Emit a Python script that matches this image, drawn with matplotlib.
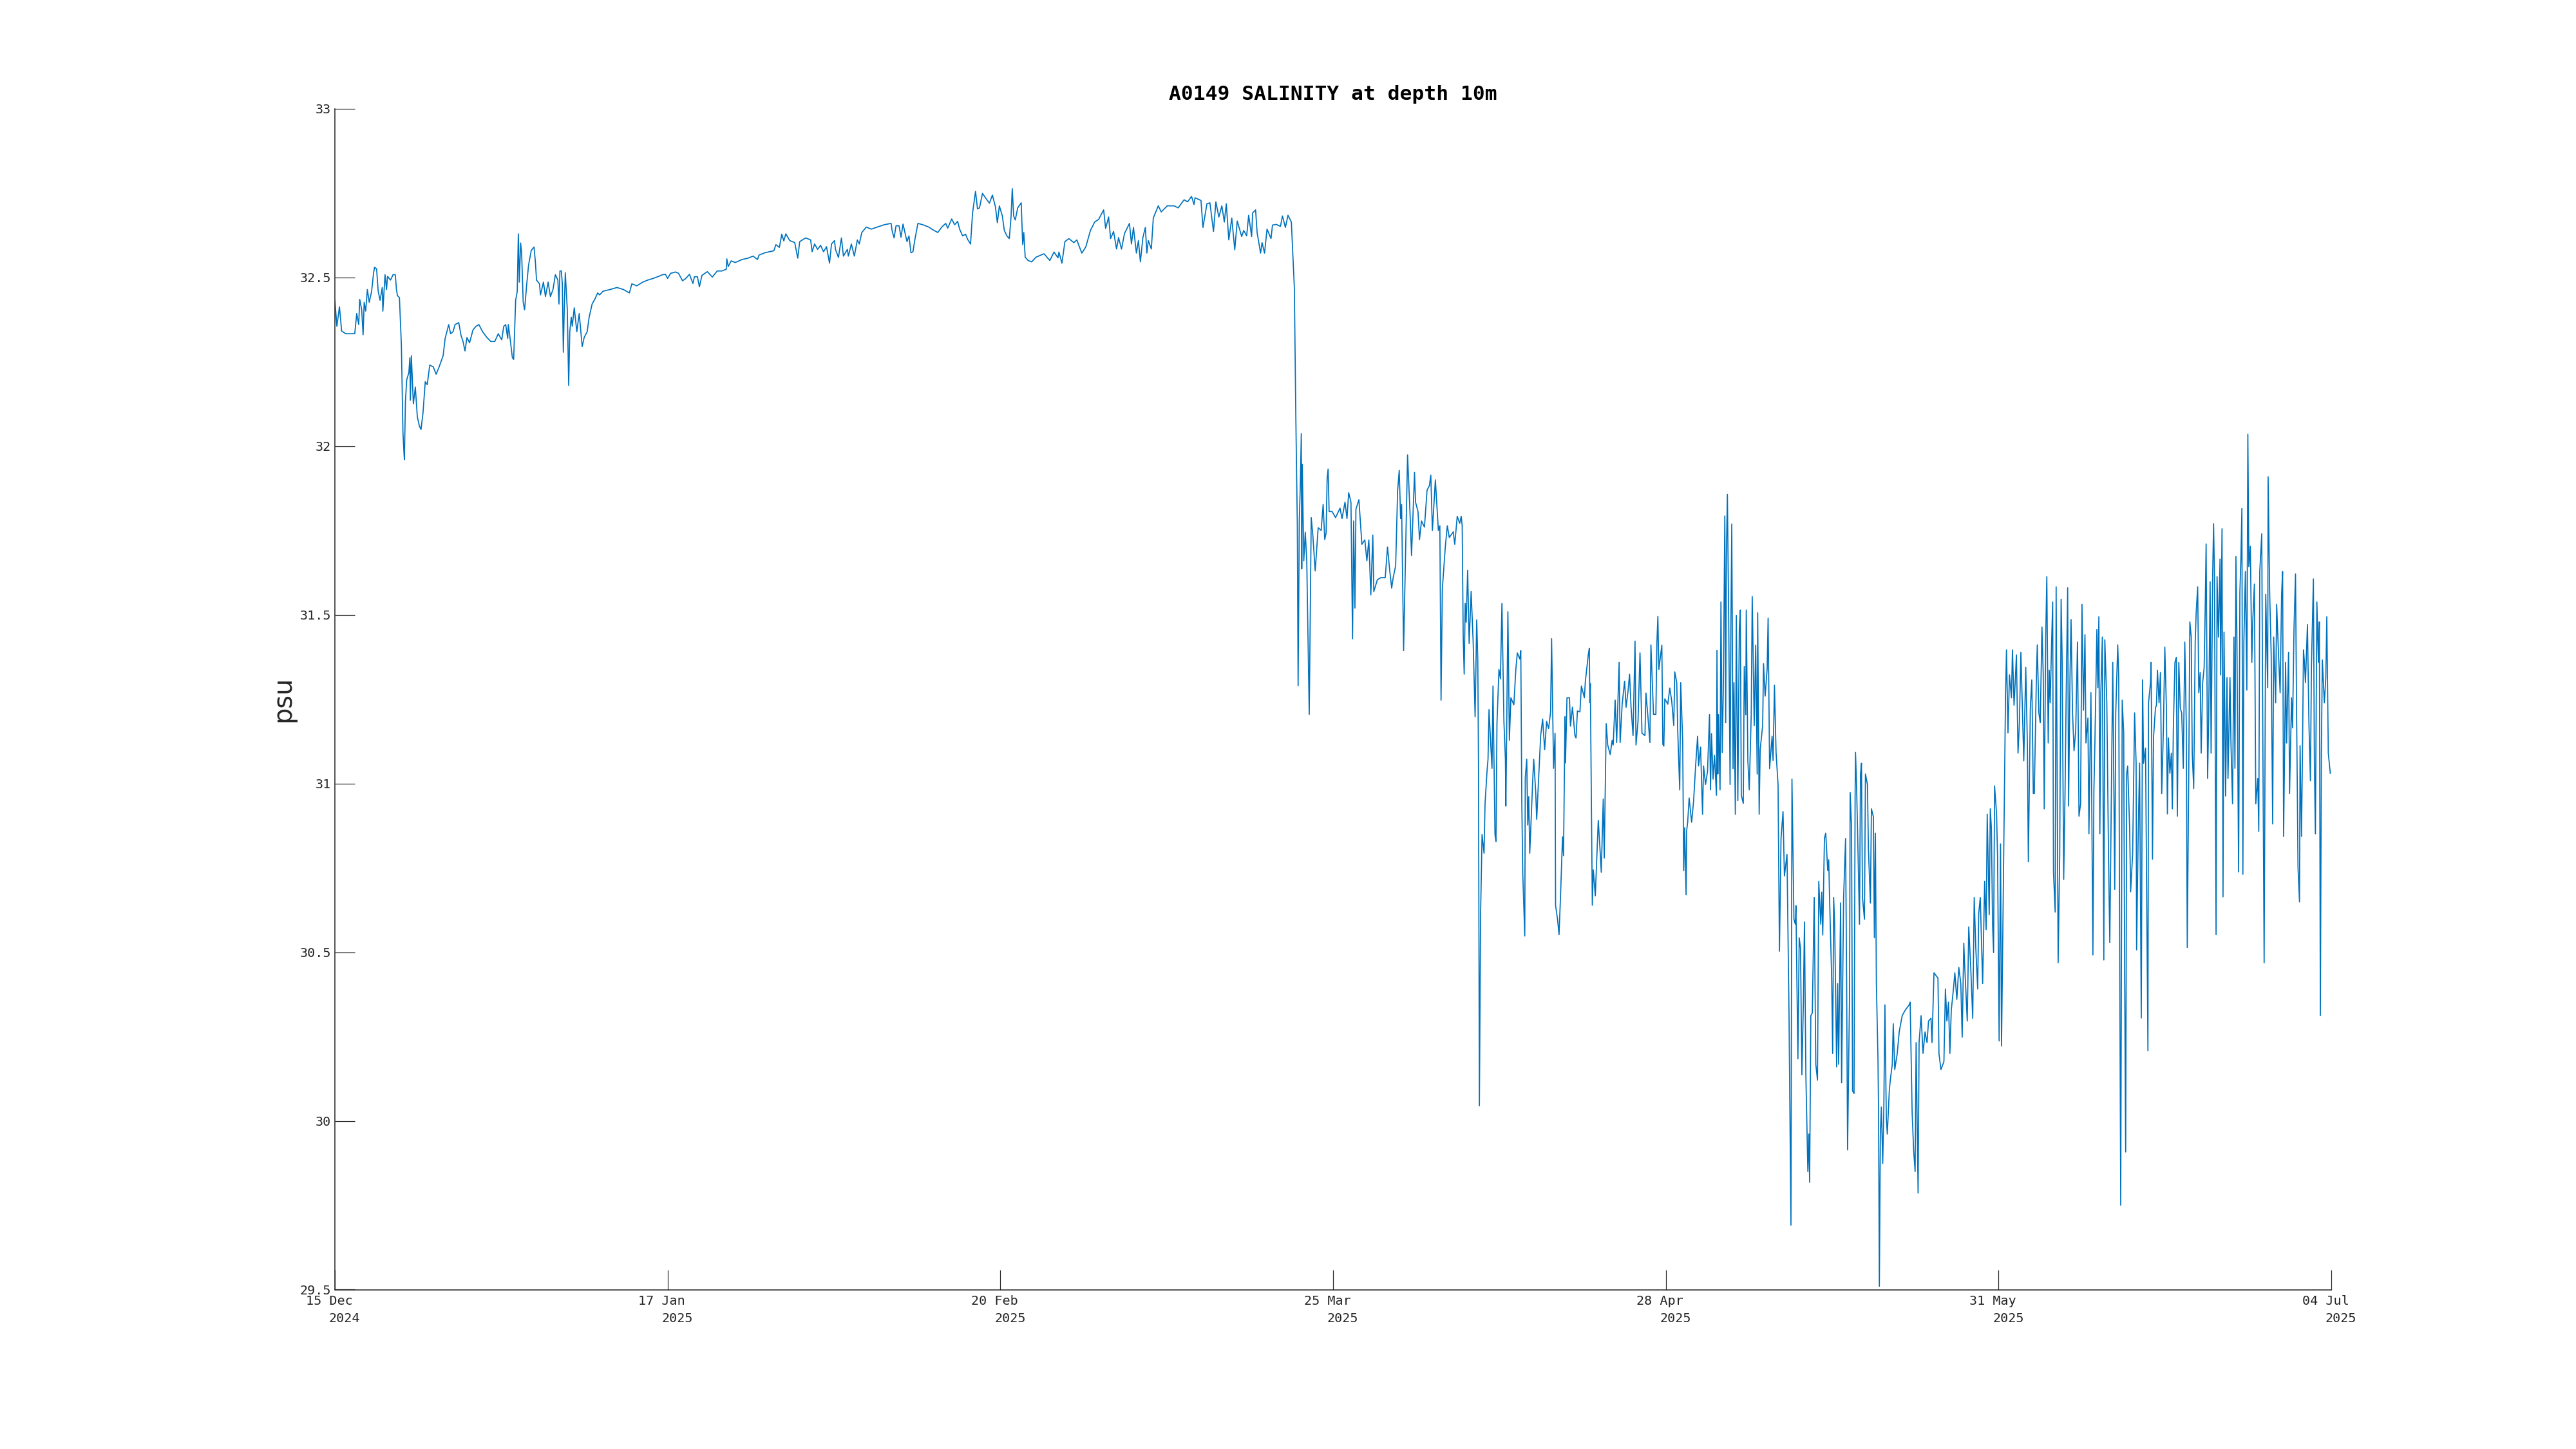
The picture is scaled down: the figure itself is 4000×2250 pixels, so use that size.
import numpy as np
import matplotlib
matplotlib.use("Agg")
import matplotlib.pyplot as plt
import matplotlib.dates as mdates
import matplotlib.transforms as mtransforms

# salinity: (days since 15 Dec 2024 00:00, psu)
dec_jan = [
    (0, 32.432), (0.2, 32.355), (0.46, 32.413), (0.68, 32.341), (1.1, 32.333), (1.6, 32.333),
    (2.0, 32.333), (2.2, 32.393), (2.4, 32.36), (2.5, 32.435), (2.7, 32.404), (2.84, 32.33),
    (2.95, 32.426), (3.1, 32.40), (3.27, 32.464), (3.46, 32.426), (3.7, 32.459), (3.9, 32.514),
    (4.0, 32.53), (4.2, 32.525), (4.36, 32.459), (4.55, 32.432), (4.77, 32.47), (4.83, 32.40),
    (5.05, 32.508), (5.2, 32.464), (5.3, 32.503), (5.6, 32.492), (5.86, 32.508), (6.08, 32.508),
    (6.2, 32.464), (6.3, 32.446), (6.5, 32.44), (6.7, 32.295), (6.85, 32.043), (6.96, 31.978),
    (7.0, 31.96), (7.1, 32.131), (7.23, 32.196), (7.45, 32.218), (7.55, 32.262), (7.6, 32.136),
    (7.7, 32.268), (7.83, 32.175), (7.9, 32.125), (8.1, 32.175), (8.3, 32.087), (8.5, 32.06),
    (8.67, 32.049), (8.87, 32.098), (9.1, 32.191), (9.3, 32.182), (9.55, 32.24), (9.9, 32.235),
    (10.2, 32.213), (10.5, 32.235), (10.9, 32.268), (11.1, 32.319), (11.46, 32.36), (11.65, 32.333),
    (11.9, 32.339), (12.1, 32.36), (12.47, 32.366), (12.7, 32.328), (12.9, 32.31), (13.1, 32.282),
    (13.3, 32.322), (13.56, 32.306), (13.9, 32.344), (14.2, 32.355), (14.5, 32.36), (14.87, 32.339),
    (15.3, 32.322), (15.7, 32.31), (16.1, 32.31), (16.45, 32.333), (16.8, 32.315), (17.0, 32.355),
    (17.2, 32.36), (17.4, 32.319), (17.46, 32.36), (17.65, 32.317), (17.87, 32.262), (18.0, 32.257),
    (18.2, 32.432), (18.36, 32.459), (18.47, 32.629), (18.57, 32.486), (18.7, 32.602), (18.8, 32.574),
    (18.96, 32.426), (19.1, 32.404), (19.3, 32.475), (19.5, 32.536), (19.77, 32.58), (20.05, 32.59),
    (20.2, 32.541), (20.3, 32.492), (20.6, 32.481), (20.7, 32.448), (21.0, 32.486), (21.2, 32.443),
    (21.47, 32.486), (21.7, 32.443), (21.96, 32.464), (22.2, 32.508), (22.45, 32.492), (22.56, 32.421),
    (22.66, 32.519), (22.8, 32.519), (22.9, 32.481), (23.0, 32.278), (23.1, 32.415), (23.2, 32.514),
    (23.4, 32.404), (23.54, 32.18), (23.65, 32.339), (23.8, 32.382), (23.9, 32.355), (24.1, 32.41),
    (24.36, 32.339), (24.6, 32.393), (24.9, 32.295), (25.1, 32.322), (25.4, 32.339), (25.6, 32.382),
    (25.9, 32.421), (26.2, 32.437), (26.46, 32.454), (26.65, 32.448), (27.0, 32.459), (27.7, 32.464),
    (28.4, 32.47), (29.05, 32.464), (29.65, 32.454), (29.9, 32.481), (30.4, 32.475), (31.0, 32.486),
    (31.5, 32.492), (32.05, 32.497), (32.6, 32.503), (33.0, 32.508),
]

jan_feb = [
    (33.28, 32.509), (33.5, 32.497), (33.8, 32.512), (34.3, 32.516), (34.6, 32.512), (35.0, 32.49),
    (35.3, 32.496), (35.7, 32.509), (36.05, 32.482), (36.2, 32.502), (36.5, 32.502), (36.7, 32.472),
    (36.96, 32.506), (37.5, 32.517), (38.0, 32.501), (38.5, 32.519), (38.96, 32.519), (39.4, 32.524),
    (39.46, 32.555), (39.6, 32.532), (39.9, 32.549), (40.3, 32.544), (41.0, 32.553), (41.6, 32.557),
    (42.1, 32.563), (42.55, 32.553), (42.7, 32.566), (43.3, 32.573), (44.2, 32.579), (44.4, 32.597),
    (44.75, 32.589), (45.0, 32.628), (45.2, 32.608), (45.4, 32.629), (45.8, 32.609), (46.3, 32.603),
    (46.6, 32.557), (46.8, 32.606), (47.4, 32.617), (47.9, 32.611), (48.05, 32.576), (48.3, 32.599),
    (48.6, 32.583), (48.9, 32.595), (49.2, 32.576), (49.5, 32.591), (49.8, 32.542), (50.0, 32.599),
    (50.3, 32.609), (50.4, 32.583), (50.7, 32.559), (51.0, 32.617), (51.2, 32.563), (51.6, 32.583),
    (51.7, 32.563), (52.0, 32.599), (52.3, 32.563), (52.6, 32.611), (52.8, 32.599), (53.05, 32.633),
    (53.5, 32.649), (54.0, 32.643), (54.6, 32.649), (55.3, 32.656), (56.0, 32.66), (56.1, 32.639),
    (56.3, 32.617), (56.5, 32.653), (56.8, 32.653), (57.0, 32.619), (57.2, 32.658), (57.6, 32.606),
    (57.8, 32.623), (58.0, 32.573), (58.2, 32.576), (58.4, 32.613), (58.7, 32.66), (59.2, 32.656),
    (59.8, 32.649), (60.1, 32.643), (60.7, 32.633), (61.1, 32.649), (61.5, 32.66), (61.7, 32.646),
    (62.1, 32.673), (62.4, 32.656), (62.7, 32.666), (62.9, 32.643), (63.2, 32.623), (63.5, 32.628),
    (63.7, 32.613), (64.0, 32.599), (64.2, 32.69), (64.5, 32.755), (64.7, 32.703), (64.9, 32.706),
    (65.2, 32.749), (65.5, 32.736), (65.8, 32.724), (65.9, 32.72), (66.2, 32.744), (66.5, 32.71),
    (66.7, 32.662),
]

feb_mar = [
    (66.9, 32.712), (67.2, 32.682), (67.4, 32.639), (67.66, 32.623), (67.9, 32.615), (68.07, 32.676),
    (68.2, 32.763), (68.34, 32.682), (68.5, 32.67), (68.75, 32.706), (69.1, 32.721), (69.25, 32.597),
    (69.36, 32.633), (69.5, 32.56), (69.8, 32.55), (70.15, 32.546), (70.6, 32.56), (71.4, 32.57),
    (71.98, 32.55), (72.4, 32.575), (72.8, 32.558), (72.9, 32.575), (73.2, 32.542), (73.5, 32.606),
    (73.9, 32.615), (74.4, 32.603), (74.7, 32.611), (75.2, 32.572), (75.6, 32.59), (76.07, 32.639),
    (76.5, 32.664), (76.9, 32.672), (77.4, 32.7), (77.6, 32.645), (77.9, 32.679), (78.1, 32.615),
    (78.4, 32.636), (78.7, 32.584), (78.9, 32.618), (79.2, 32.584), (79.5, 32.63), (80.0, 32.66),
    (80.2, 32.599), (80.4, 32.648), (80.7, 32.572), (80.9, 32.609), (81.1, 32.546), (81.35, 32.618),
    (81.6, 32.648), (81.75, 32.572), (81.9, 32.609), (82.2, 32.584), (82.4, 32.676), (82.9, 32.712),
    (83.2, 32.694), (83.8, 32.712), (84.5, 32.712), (84.9, 32.706), (85.5, 32.73), (85.85, 32.724),
    (86.25, 32.74), (86.5, 32.716), (86.6, 32.736), (87.2, 32.728), (87.4, 32.648), (87.8, 32.718),
    (88.1, 32.721), (88.46, 32.636), (88.7, 32.724), (89.0, 32.679), (89.3, 32.712), (89.55, 32.664),
    (89.75, 32.718), (90.0, 32.611), (90.3, 32.676), (90.6, 32.582), (90.85, 32.667), (91.3, 32.621),
    (91.5, 32.639), (91.8, 32.623), (92.0, 32.684), (92.3, 32.621), (92.4, 32.691), (92.7, 32.7),
    (92.85, 32.633), (93.2, 32.572), (93.35, 32.603), (93.6, 32.572), (93.85, 32.643), (94.25, 32.615),
    (94.4, 32.655), (94.8, 32.657), (95.2, 32.651), (95.4, 32.682), (95.7, 32.648), (95.96, 32.684),
    (96.3, 32.664), (96.5, 32.536), (96.6, 32.469), (96.75, 32.086), (96.9, 31.764), (96.98, 31.29),
    (97.1, 31.782), (97.2, 31.88), (97.3, 32.037), (97.35, 31.636), (97.4, 31.946), (97.55, 31.66),
    (97.7, 31.745), (97.85, 31.66), (98.1, 31.205), (98.3, 31.788), (98.45, 31.74), (98.7, 31.63),
    (99.0, 31.758),
]

mar_apr = [
    (99.3, 31.75), (99.5, 31.827), (99.66, 31.723), (99.8, 31.743), (99.9, 31.904), (100.0, 31.932),
    (100.1, 31.806), (100.4, 31.806), (100.75, 31.788), (101.2, 31.816), (101.4, 31.785), (101.7, 31.834),
    (101.9, 31.785), (102.07, 31.862), (102.3, 31.834), (102.46, 31.429), (102.57, 31.778), (102.7, 31.52),
    (102.8, 31.813), (103.1, 31.841), (103.4, 31.709), (103.7, 31.722), (103.9, 31.66), (104.1, 31.722),
    (104.3, 31.559), (104.5, 31.736), (104.6, 31.569), (104.96, 31.604), (105.3, 31.61), (105.75, 31.61),
    (105.98, 31.701), (106.2, 31.632), (106.4, 31.579), (106.55, 31.61), (106.8, 31.645), (107.0, 31.869),
    (107.16, 31.928), (107.3, 31.785), (107.4, 31.827), (107.6, 31.394), (107.8, 31.688), (108.0, 31.974),
    (108.25, 31.799), (108.4, 31.676), (108.7, 31.922), (108.8, 31.834), (109.05, 31.806), (109.2, 31.723),
    (109.4, 31.778), (109.7, 31.76), (109.96, 31.869), (110.2, 31.883), (110.34, 31.914), (110.5, 31.75),
    (110.8, 31.9), (111.1, 31.75), (111.25, 31.764), (111.37, 31.247), (111.5, 31.576), (111.8, 31.702),
    (112.0, 31.764), (112.2, 31.729), (112.6, 31.746), (112.75, 31.709), (113.0, 31.792), (113.25, 31.771),
    (113.4, 31.792), (113.5, 31.764), (113.6, 31.436), (113.7, 31.324), (113.8, 31.534), (113.9, 31.478),
    (114.05, 31.632), (114.2, 31.415), (114.4, 31.569), (114.6, 31.422), (114.8, 31.198), (114.96, 31.485),
    (115.07, 31.366), (115.14, 31.058), (115.23, 30.045), (115.35, 30.611), (115.5, 30.849), (115.7, 30.793),
    (115.8, 30.94), (116.0, 31.037), (116.1, 31.072), (116.2, 31.219), (116.4, 31.1), (116.5, 31.045),
    (116.6, 31.289), (116.8, 30.849), (116.9, 30.828), (117.0, 31.177), (117.2, 31.338), (117.35, 31.31),
    (117.5, 31.534), (117.7, 31.184), (117.85, 31.072), (117.9, 30.933), (118.1, 31.509), (118.25, 31.128),
    (118.4, 31.254), (118.7, 31.233), (118.9, 31.338), (119.05, 31.387), (119.3, 31.369), (119.4, 31.394),
    (119.5, 30.947), (119.6, 30.73), (119.8, 30.548), (119.85, 31.017), (120.0, 31.072), (120.1, 30.877),
    (120.2, 30.961), (120.3, 30.793), (120.4, 30.863), (120.6, 31.01), (120.7, 31.072), (120.9, 30.975),
    (121.0, 30.894), (121.2, 31.017), (121.4, 31.142), (121.6, 31.191), (121.8, 31.1), (122.0, 31.184),
    (122.2, 31.163), (122.4, 31.212), (122.5, 31.429), (122.7, 31.045), (122.85, 31.149), (122.9, 30.639),
    (123.1, 30.597), (123.25, 30.552), (123.4, 30.667), (123.6, 30.842), (123.7, 30.786), (123.85, 31.198),
    (123.9, 31.061), (124.05, 31.254), (124.3, 31.254), (124.4, 31.17), (124.6, 31.226), (124.85, 31.142),
    (124.96, 31.135), (125.1, 31.215), (125.35, 31.212), (125.5, 31.289), (125.8, 31.254), (125.9, 31.303),
    (126.2, 31.383), (126.3, 31.401), (126.35, 31.24), (126.4, 31.296), (126.6, 30.639), (126.7, 30.744),
    (126.9, 30.667), (127.1, 30.814), (127.2, 30.891), (127.4, 30.793), (127.5, 30.737), (127.7, 30.954),
    (127.8, 30.779), (128.0, 31.177), (128.15, 31.114), (128.4, 31.086), (128.6, 31.128), (128.7, 31.114),
    (128.9, 31.247), (129.05, 31.121), (129.3, 31.359), (129.4, 31.121), (129.6, 31.233), (129.85, 31.303),
    (130.0, 31.226), (130.2, 31.275), (130.35, 31.324), (130.5, 31.226), (130.7, 31.142), (130.9, 31.422),
    (131.0, 31.114), (131.2, 31.184), (131.4, 31.387), (131.6, 31.149), (131.9, 31.142), (132.0, 31.268),
    (132.2, 31.198), (132.4, 31.121), (132.5, 31.411), (132.76, 31.205), (133.0, 31.205), (133.1, 31.415),
    (133.2, 31.495), (133.3, 31.338),
]

apr_may = [
    (133.6, 31.41), (133.7, 31.116), (133.8, 31.111), (133.9, 31.251), (134.2, 31.235), (134.4, 31.283),
    (134.6, 31.243), (134.8, 31.172), (134.9, 31.331), (135.1, 31.299), (135.2, 31.156), (135.4, 30.981),
    (135.5, 31.299), (135.7, 31.124), (135.8, 30.742), (135.9, 30.869), (136.04, 30.67), (136.1, 30.861),
    (136.2, 30.885), (136.35, 30.957), (136.6, 30.885), (136.8, 30.949), (137.0, 31.052), (137.2, 31.14),
    (137.3, 31.052), (137.5, 31.108), (137.7, 30.909), (137.8, 31.052), (138.0, 30.997), (138.2, 31.036),
    (138.4, 31.204), (138.5, 30.981), (138.6, 31.148), (138.76, 31.013), (138.9, 31.084), (139.1, 30.965),
    (139.15, 31.395), (139.24, 31.028), (139.3, 31.204), (139.46, 30.981), (139.55, 31.538), (139.68, 31.092),
    (139.8, 31.299), (139.94, 31.793), (140.03, 31.18), (140.1, 31.681), (140.2, 31.857), (140.33, 31.49),
    (140.47, 30.997), (140.55, 31.458), (140.64, 31.769), (140.77, 31.044), (140.86, 31.299), (141.0, 30.909),
    (141.1, 31.498), (141.25, 30.949), (141.4, 31.458), (141.5, 31.514), (141.6, 30.965), (141.8, 30.941),
    (141.9, 31.347), (142.05, 31.204), (142.1, 31.514), (142.26, 31.068), (142.4, 30.981), (142.6, 31.204),
    (142.7, 31.554), (142.9, 31.172), (143.05, 31.41), (143.2, 31.028), (143.25, 31.506), (143.4, 30.909),
    (143.5, 31.1), (143.75, 31.172), (143.84, 31.355), (144.0, 31.259), (144.2, 31.339), (144.3, 31.49),
    (144.45, 31.044), (144.7, 31.14), (144.8, 31.068), (144.94, 31.291), (145.1, 31.092), (145.3, 30.997),
    (145.44, 30.503), (145.6, 30.837), (145.8, 30.917), (145.94, 30.726), (146.2, 30.79), (146.4, 30.328),
    (146.6, 29.691), (146.7, 31.013), (146.9, 30.598), (147.04, 30.583), (147.1, 30.638), (147.3, 30.184),
    (147.43, 30.543), (147.56, 30.511), (147.7, 30.137), (147.85, 30.352), (147.96, 30.59), (148.1, 30.137),
    (148.3, 29.85), (148.4, 29.961), (148.48, 29.818), (148.6, 30.312), (148.75, 30.32), (148.94, 30.662),
    (149.1, 30.168), (149.27, 30.121), (149.4, 30.71), (149.6, 30.583), (149.7, 30.678), (149.8, 30.551),
    (149.97, 30.837), (150.1, 30.853), (150.3, 30.742), (150.4, 30.774), (150.5, 30.646), (150.7, 30.423),
    (150.8, 30.2), (150.9, 30.662), (151.0, 30.583), (151.2, 30.16), (151.3, 30.407), (151.4, 30.168),
    (151.6, 30.646), (151.7, 30.113), (151.9, 30.662), (152.1, 30.837), (152.2, 30.431), (152.3, 29.914),
    (152.5, 30.376), (152.56, 30.973), (152.7, 30.869), (152.8, 30.089), (152.95, 30.081), (153.06, 30.965),
    (153.1, 31.092), (153.2, 30.997), (153.3, 30.869), (153.5, 30.583), (153.6, 31.028), (153.7, 31.06),
    (153.8, 30.662), (154.0, 30.598), (154.1, 31.028), (154.3, 30.997), (154.4, 30.806), (154.6, 30.646),
    (154.7, 30.925), (154.9, 30.901), (155.0, 30.543), (155.1, 30.853), (155.2, 30.407), (155.36, 30.184),
    (155.42, 30.025), (155.5, 29.51), (155.6, 29.961), (155.7, 30.041), (155.84, 29.874), (155.95, 30.041),
    (156.06, 30.344), (156.2, 30.009), (156.3, 29.961), (156.5, 30.089), (156.6, 30.121), (156.8, 30.168),
    (156.9, 30.288), (157.05, 30.152), (157.3, 30.2), (157.5, 30.264), (157.8, 30.312), (158.1, 30.328),
    (158.5, 30.344), (158.6, 30.352), (158.8, 30.025), (158.95, 29.914), (159.1, 29.85), (159.2, 30.232),
    (159.4, 29.786), (159.5, 30.232), (159.7, 30.312), (159.9, 30.2), (160.1, 30.264), (160.3, 30.232),
    (160.45, 30.296), (160.7, 30.304), (160.8, 30.232), (161.0, 30.439), (161.2, 30.431), (161.4, 30.423),
    (161.5, 30.2), (161.7, 30.152), (162.0, 30.176), (162.15, 30.391), (162.3, 30.296), (162.46, 30.352),
    (162.6, 30.2), (162.74, 30.328), (162.96, 30.391), (163.1, 30.439), (163.3, 30.36), (163.5, 30.455),
    (163.7, 30.407), (163.84, 30.248), (164.0, 30.527), (164.1, 30.455), (164.35, 30.296), (164.5, 30.575),
    (164.7, 30.455), (164.9, 30.304), (165.05, 30.662), (165.2, 30.519), (165.4, 30.391), (165.5, 30.614),
    (165.66, 30.662), (165.9, 30.407), (166.1, 30.71), (166.25, 30.567), (166.36, 30.909),
]

may_jul = [
    (166.56, 30.611), (166.67, 30.925), (166.78, 30.866), (166.9, 30.581), (167.0, 30.499), (167.1, 30.993),
    (167.3, 30.91), (167.4, 30.783), (167.56, 30.237), (167.7, 30.821), (167.8, 30.222), (167.95, 30.611),
    (168.1, 31.015), (168.2, 31.254), (168.3, 31.396), (168.45, 31.15), (168.6, 31.322), (168.8, 31.254),
    (168.9, 31.396), (169.06, 31.232), (169.2, 31.314), (169.3, 31.381), (169.46, 31.09), (169.6, 31.18),
    (169.75, 31.389), (169.9, 31.224), (170.04, 31.067), (170.24, 31.344), (170.4, 31.12), (170.5, 30.768),
    (170.7, 31.224), (170.85, 31.307), (171.0, 30.97), (171.1, 30.97), (171.3, 31.299), (171.4, 31.411),
    (171.56, 31.209), (171.7, 31.18), (171.87, 31.464), (172.0, 31.322), (172.1, 30.925), (172.25, 31.434),
    (172.36, 31.613), (172.5, 31.12), (172.6, 31.336), (172.7, 31.239), (172.8, 31.366), (172.95, 31.538),
    (173.03, 30.738), (173.2, 30.619), (173.3, 31.583), (173.5, 30.469), (173.66, 30.791), (173.8, 31.546),
    (173.9, 31.374), (174.06, 30.716), (174.2, 30.985), (174.3, 31.239), (174.46, 31.58), (174.55, 30.933),
    (174.7, 31.329), (174.8, 31.486), (174.95, 31.209), (175.1, 31.097), (175.27, 31.157), (175.45, 31.419),
    (175.6, 30.903), (175.76, 30.94), (175.9, 31.531), (176.05, 31.217), (176.2, 31.441), (176.3, 31.12),
    (176.5, 31.194), (176.6, 30.851), (176.7, 31.075), (176.8, 31.269), (177.0, 30.492), (177.1, 30.978),
    (177.2, 31.12), (177.4, 31.456), (177.5, 31.284), (177.6, 31.494), (177.7, 30.851), (177.8, 31.269),
    (177.95, 31.434), (178.1, 30.477), (178.2, 31.426), (178.4, 31.239), (178.57, 30.791), (178.7, 30.529),
    (178.9, 31.075), (179.0, 31.359), (179.2, 30.686), (179.3, 31.209), (179.5, 31.411), (179.6, 31.314),
    (179.7, 30.492), (179.8, 29.75), (179.95, 31.247), (180.1, 31.15), (180.2, 30.417), (180.3, 29.908),
    (180.4, 31.03), (180.5, 31.052), (180.7, 30.866), (180.8, 30.679), (181.0, 30.791), (181.07, 30.94),
    (181.2, 31.209), (181.35, 31.06), (181.4, 30.507), (181.56, 30.851), (181.7, 31.06), (181.8, 30.626),
    (181.87, 30.305), (182.0, 31.307), (182.1, 31.06), (182.3, 31.105), (182.4, 30.731), (182.54, 30.208),
    (182.6, 31.239), (182.8, 31.299), (182.86, 31.359), (183.0, 30.776), (183.1, 31.135), (183.3, 31.224),
    (183.4, 31.232), (183.5, 31.336), (183.66, 31.239), (183.8, 31.329), (183.93, 30.97), (184.1, 31.165),
    (184.24, 31.404), (184.4, 31.224), (184.5, 30.91), (184.6, 31.135), (184.75, 31.03), (184.9, 31.09),
    (185.0, 30.925), (185.1, 31.165), (185.26, 31.359), (185.4, 31.374), (185.5, 30.903), (185.65, 31.359),
    (185.8, 31.224), (185.94, 31.209), (186.1, 31.045), (186.25, 31.419), (186.4, 31.18), (186.5, 30.514),
    (186.65, 31.03), (186.76, 31.479), (186.9, 31.434), (187.0, 31.09), (187.15, 30.985), (187.3, 31.419),
    (187.4, 31.508), (187.55, 31.583), (187.66, 31.269), (187.8, 31.329), (187.9, 31.09), (188.05, 31.299),
    (188.2, 31.344), (188.3, 31.508), (188.4, 31.71), (188.55, 31.015), (188.66, 31.202), (188.8, 31.598),
    (188.9, 31.09), (189.06, 31.621), (189.15, 31.77), (189.24, 31.613), (189.4, 30.552), (189.5, 31.613),
    (189.64, 31.434), (189.8, 31.665), (189.86, 31.322), (190.0, 31.755), (190.1, 30.664), (190.2, 31.449),
    (190.36, 30.963), (190.5, 31.314), (190.6, 31.015), (190.8, 31.314), (190.9, 31.12), (191.06, 30.94),
    (191.2, 31.434), (191.3, 31.045), (191.4, 31.673), (191.5, 31.426), (191.67, 30.738), (191.8, 31.568),
    (191.9, 31.665), (192.0, 31.815), (192.1, 30.731), (192.2, 31.419), (192.35, 31.628), (192.5, 31.277),
    (192.6, 32.035), (192.7, 31.643), (192.85, 31.703), (193.0, 31.359), (193.1, 31.486), (193.26, 31.591),
    (193.4, 30.94), (193.6, 31.015), (193.7, 30.858), (193.8, 31.628), (194.0, 31.74), (194.1, 31.18),
    (194.24, 30.469), (194.4, 31.561), (194.6, 31.284), (194.64, 31.909), (194.8, 31.561), (194.95, 31.381),
    (195.1, 30.88), (195.2, 31.434), (195.4, 31.239), (195.5, 31.531), (195.7, 31.374), (195.85, 31.269),
    (196.0, 31.561), (196.1, 31.628), (196.2, 30.843), (196.4, 31.359), (196.5, 31.12), (196.7, 31.389),
    (196.8, 30.97), (197.0, 31.254), (197.1, 31.165), (197.25, 31.464), (197.4, 31.621), (197.5, 31.239),
    (197.65, 30.753), (197.8, 30.649), (197.86, 31.112), (198.0, 30.843), (198.1, 31.09), (198.2, 31.396),
    (198.3, 31.359), (198.4, 31.299), (198.6, 31.471), (198.75, 31.18), (198.9, 31.008), (199.0, 31.344),
    (199.2, 31.606), (199.3, 31.06), (199.4, 30.851), (199.55, 31.538), (199.7, 31.359), (199.8, 31.479),
    (199.9, 30.312), (200.0, 31.09), (200.1, 31.366), (200.3, 31.239), (200.45, 31.314), (200.55, 31.494),
    (200.7, 31.09), (200.9, 31.03),
]

title = "A0149 SALINITY at depth 10m"
ylabel = "psu"
start = np.datetime64("2024-12-15T00:00")
end = np.datetime64("2025-07-04T00:00")
# MATLAB placed the date ticks evenly, every 33.5 days
tick_days = [0, 33.5, 67, 100.5, 134, 167.5, 201]
tick_day_month = ["15 Dec", "17 Jan", "20 Feb", "25 Mar", "28 Apr", "31 May", "04 Jul"]
tick_year = ["2024", "2025", "2025", "2025", "2025", "2025", "2025"]
yticks = [29.5, 30, 30.5, 31, 31.5, 32, 32.5, 33]
ytick_labels = ["29.5", "30", "30.5", "31", "31.5", "32", "32.5", "33"]


def to_num(offsets):
    secs = np.round(np.asarray(offsets, dtype=float) * 86400).astype("int64")
    return mdates.date2num(start + secs.astype("timedelta64[s]"))


series = dec_jan + jan_feb + feb_mar + mar_apr + apr_may + may_jul
days = [d for d, _ in series]
psu = [v for _, v in series]
times = to_num(days)

INK = "#262626"
MONO = "DejaVu Sans Mono"

fig = plt.figure(figsize=(16, 9), dpi=250)
ax = fig.add_axes([0.13, 0.11, 0.775, 0.815])
ax.plot(times, psu, color="#0072BD", lw=0.5)

ax.set_xlim(mdates.date2num(start), mdates.date2num(end))
ax.set_ylim(29.5, 33)

for side in ("top", "right"):
    ax.spines[side].set_visible(False)
for side in ("left", "bottom"):
    ax.spines[side].set_color(INK)
    ax.spines[side].set_linewidth(0.45)

tick_nums = to_num(tick_days)
ax.set_xticks(tick_nums)
ax.set_xticklabels([])
ax.set_yticks(yticks)
ax.set_yticklabels(ytick_labels, family=MONO, fontsize=5.8, color=INK)
ax.tick_params(direction="in", length=9, width=0.35, colors=INK, pad=1.8)

# two-line date labels, as in the source figure
xtrans = ax.get_xaxis_transform()
line1 = mtransforms.offset_copy(xtrans, fig=fig, x=-2.6, y=-5.2, units="points")
line2 = mtransforms.offset_copy(xtrans, fig=fig, x=4.3, y=-13.0, units="points")
for t, dm, yr in zip(tick_nums, tick_day_month, tick_year):
    ax.text(t, 0, dm, transform=line1, ha="center", va="center",
            family=MONO, fontsize=5.8, color=INK)
    ax.text(t, 0, yr, transform=line2, ha="center", va="center",
            family=MONO, fontsize=5.8, color=INK)

ax.set_title(title, family=MONO, fontweight="bold", fontsize=9, pad=4)
ax.set_ylabel(ylabel, family="DejaVu Sans", fontsize=11.5, color=INK)
ax.yaxis.set_label_coords(-0.0195, 0.5)

fig.savefig("out.png", dpi=250, facecolor="white")
